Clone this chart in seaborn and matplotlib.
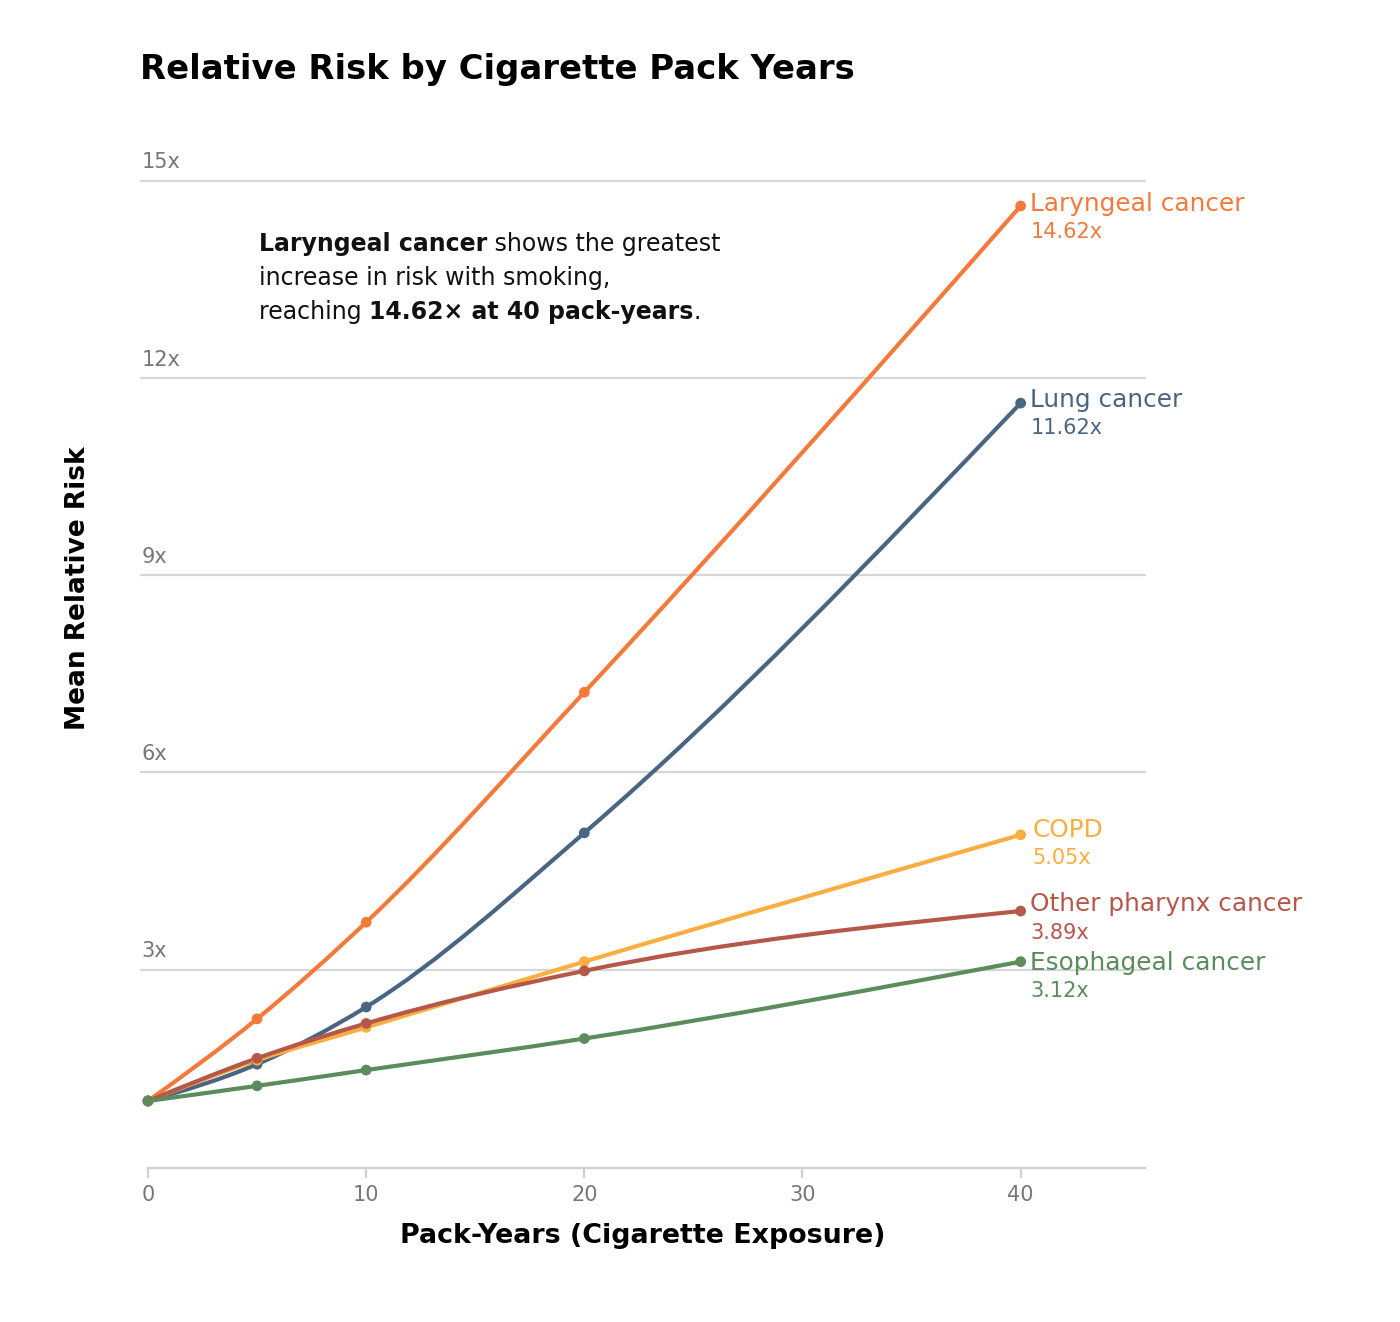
import numpy as np
import pandas as pd
import matplotlib
matplotlib.use("Agg")
import matplotlib.pyplot as plt
from matplotlib.path import Path
from matplotlib.patches import PathPatch
import seaborn as sns

# data
pack_years = [0, 5, 10, 20, 40]
laryngeal = [1.0, 2.25, 3.72, 7.22, 14.62]
lung = [1.0, 1.56, 2.43, 5.08, 11.62]
copd = [1.0, 1.62, 2.12, 3.12, 5.05]
other_pharynx = [1.0, 1.65, 2.18, 2.98, 3.89]
esophageal = [1.0, 1.23, 1.47, 1.95, 3.12]

series_names = ["Laryngeal cancer", "Lung cancer", "COPD",
                "Other pharynx cancer", "Esophageal cancer"]
series_values = [laryngeal, lung, copd, other_pharynx, esophageal]
colors = ["#F47A3B", "#4A6582", "#FBAE40", "#B5584A", "#5B8C5C"]
y_ticks = [3, 6, 9, 12, 15]
x_ticks = [0, 10, 20, 30, 40]

df = pd.DataFrame({
    "pack_years": pack_years * len(series_names),
    "risk": [v for vals in series_values for v in vals],
    "series": [n for n in series_names for _ in pack_years],
})

sns.set_theme(style="white")
plt.rcParams["font.family"] = ["DejaVu Sans"]
plt.rcParams["text.color"] = "black"


def monotone_path(x, y):
    # cubic bezier path like d3.curveMonotoneX
    x = np.asarray(x, float)
    y = np.asarray(y, float)
    n = len(x)
    h = np.diff(x)
    s = np.diff(y) / h
    t = np.zeros(n)
    for i in range(1, n - 1):
        p = (s[i - 1] * h[i] + s[i] * h[i - 1]) / (h[i - 1] + h[i])
        t[i] = (np.sign(s[i - 1]) + np.sign(s[i])) * min(abs(s[i - 1]), abs(s[i]), 0.5 * abs(p))
    t[0] = (3 * s[0] - t[1]) / 2
    t[-1] = (3 * s[-1] - t[-2]) / 2
    verts = [(x[0], y[0])]
    codes = [Path.MOVETO]
    for i in range(n - 1):
        dx = h[i] / 3
        verts += [(x[i] + dx, y[i] + dx * t[i]),
                  (x[i + 1] - dx, y[i + 1] - dx * t[i + 1]),
                  (x[i + 1], y[i + 1])]
        codes += [Path.CURVE4] * 3
    return Path(verts, codes)


fig = plt.figure(figsize=(14, 13.22), dpi=100)
ax = fig.add_axes([148 / 1400, 154 / 1322, 997 / 1400, 987 / 1322])

ax.set_xlim(0, 45.7)
ax.set_ylim(-0.02, 15)

for yv in y_ticks:
    ax.plot([-0.3, 45.7], [yv, yv], color="#d6d6d6", lw=1.6, zorder=0, clip_on=False)
    ax.text(-0.3, yv + 0.13, f"{yv}x", color="#777777", fontsize=15,
            ha="left", va="bottom")

for name, vals, col in zip(series_names, series_values, colors):
    ax.add_patch(PathPatch(monotone_path(pack_years, vals), fill=False,
                           edgecolor=col, lw=3, capstyle="round", zorder=2))

sns.scatterplot(data=df, x="pack_years", y="risk", hue="series",
                palette=dict(zip(series_names, colors)), s=60,
                edgecolor="none", legend=False, ax=ax, zorder=3, clip_on=False)

label_offsets = [0.03, 0.05, 0.08, 0.1, -0.02]
for name, vals, col, off in zip(series_names, series_values, colors, label_offsets):
    x_lab = 40.45 if name != "COPD" else 40.55
    ax.text(x_lab, vals[-1] + off, name, color=col, fontsize=17.8,
            ha="left", va="center")
    ax.text(x_lab, vals[-1] + off - 0.43, f"{vals[-1]:.2f}x", color=col,
            fontsize=15, ha="left", va="center")

# annotation with mixed bold runs
lines = [
    [("Laryngeal cancer", "bold"), (" shows the greatest", "normal")],
    [("increase in risk with smoking,", "normal")],
    [("reaching ", "normal"), ("14.62\u00d7 at 40 pack-years", "bold"), (".", "normal")],
]
y0 = 244
for i, runs in enumerate(lines):
    prev = None
    for txt, wt in runs:
        if prev is None:
            prev = fig.text(259 / 1400, 1 - (y0 + 34 * i) / 1322, txt,
                            fontsize=17, fontweight=wt, color="#111111",
                            ha="left", va="center")
        else:
            prev = ax.annotate(txt, xy=(1, 0.5), xycoords=prev, fontsize=17,
                               fontweight=wt, color="#111111",
                               ha="left", va="center")

sns.despine(ax=ax, left=True, top=True, right=True)
ax.spines["bottom"].set_color("#d0d0d0")
ax.spines["bottom"].set_linewidth(1.6)
ax.set_yticks([])
ax.set_xticks(x_ticks)
ax.tick_params(axis="x", length=7, width=1.6, color="#d0d0d0",
               labelcolor="#777777", labelsize=15, pad=5, bottom=True)
ax.set_xlabel("")
ax.set_ylabel("")
ax.grid(False)

fig.text(643 / 1400, 1 - 1236 / 1322, "Pack-Years (Cigarette Exposure)",
         fontsize=19.4, fontweight="bold", ha="center", va="center")
fig.text(78 / 1400, 1 - 588 / 1322, "Mean Relative Risk", fontsize=19,
         fontweight="bold", rotation=90, ha="center", va="center")
fig.text(140 / 1400, 1 - 70 / 1322, "Relative Risk by Cigarette Pack Years",
         fontsize=24.4, fontweight="bold", ha="left", va="center")

fig.savefig("out.png", dpi=100, facecolor="white")
